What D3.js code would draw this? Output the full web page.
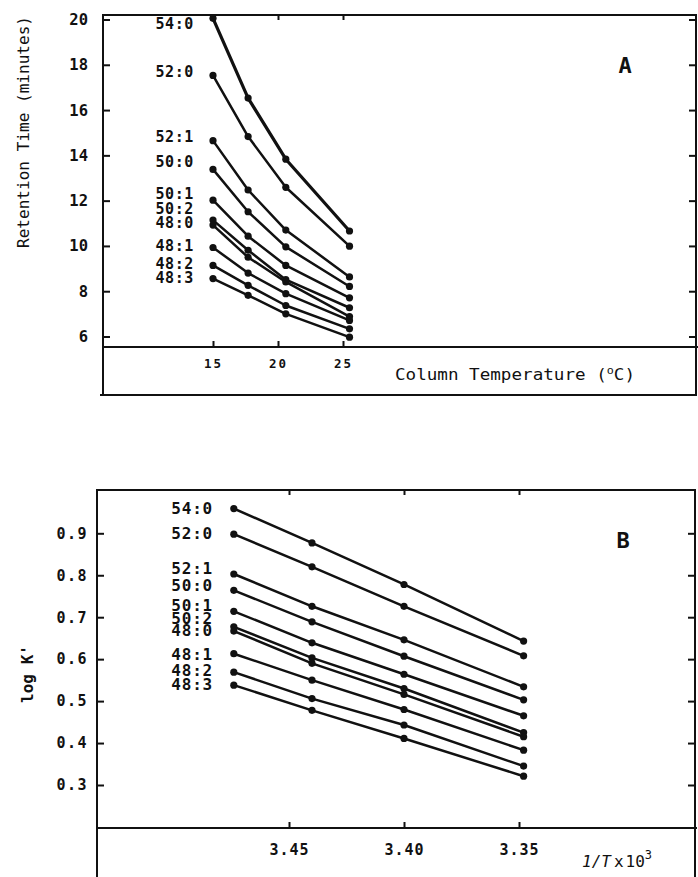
<!DOCTYPE html>
<html>
<head>
<meta charset="utf-8">
<script src="https://cdn.jsdelivr.net/npm/d3@7"></script>
<style>
  html, body { margin: 0; padding: 0; background: #fff; }
  svg { display: block; }
  text { font-family: "DejaVu Sans Mono", monospace; fill: #111; }
</style>
</head>
<body>
<svg id="chart" width="698" height="877"></svg>
<script>
// ---------- data ----------
const seriesNames = ["54:0", "52:0", "52:1", "50:0", "50:1", "50:2", "48:0", "48:1", "48:2", "48:3"];

// Panel A: column temperature (°C) vs retention time (minutes)
const temperatures = [15, 17.7, 20.6, 25.5];
const rt_54_0 = [20.05, 16.53, 13.83, 10.66];
const rt_52_0 = [17.53, 14.83, 12.59, 9.99];
const rt_52_1 = [14.65, 12.47, 10.70, 8.63];
const rt_50_0 = [13.38, 11.51, 9.96, 8.21];
const rt_50_1 = [12.02, 10.43, 9.14, 7.71];
const rt_50_2 = [11.14, 9.81, 8.51, 7.27];
const rt_48_0 = [10.92, 9.50, 8.41, 6.88];
const rt_48_1 = [9.93, 8.80, 7.89, 6.71];
const rt_48_2 = [9.14, 8.26, 7.37, 6.34];
const rt_48_3 = [8.56, 7.82, 7.00, 5.97];
const labelLevelA = [19.82, 17.70, 14.82, 13.71, 12.33, 11.63, 11.01, 10.03, 9.23, 8.61];
const tempTicks = [15, 20, 25];
const rtTicks = [6, 8, 10, 12, 14, 16, 18, 20];

// Panel B: 1/T x 10^3 vs log k'
const invT = [3.474, 3.440, 3.400, 3.348];
const lk_54_0 = [0.959, 0.877, 0.778, 0.643];
const lk_52_0 = [0.898, 0.820, 0.726, 0.608];
const lk_52_1 = [0.803, 0.726, 0.646, 0.534];
const lk_50_0 = [0.764, 0.689, 0.607, 0.503];
const lk_50_1 = [0.714, 0.639, 0.564, 0.465];
const lk_50_2 = [0.677, 0.603, 0.530, 0.425];
const lk_48_0 = [0.667, 0.590, 0.516, 0.415];
const lk_48_1 = [0.613, 0.550, 0.480, 0.383];
const lk_48_2 = [0.569, 0.506, 0.443, 0.345];
const lk_48_3 = [0.538, 0.478, 0.411, 0.321];
const labelLevelB = [0.960, 0.901, 0.816, 0.776, 0.729, 0.697, 0.670, 0.611, 0.573, 0.539];
const invTTicks = [3.45, 3.40, 3.35];
const lkTicks = [0.3, 0.4, 0.5, 0.6, 0.7, 0.8, 0.9];

const rtSeries = [rt_54_0, rt_52_0, rt_52_1, rt_50_0, rt_50_1, rt_50_2, rt_48_0, rt_48_1, rt_48_2, rt_48_3];
const lkSeries = [lk_54_0, lk_52_0, lk_52_1, lk_50_0, lk_50_1, lk_50_2, lk_48_0, lk_48_1, lk_48_2, lk_48_3];

// ---------- drawing ----------
const svg = d3.select("#chart");
const ink = "#111";

function frameLine(g, x1, y1, x2, y2, w) {
  g.append("line").attr("x1", x1).attr("y1", y1).attr("x2", x2).attr("y2", y2)
    .attr("stroke", ink).attr("stroke-width", w || 2).attr("stroke-linecap", "square");
}

function styleAxis(sel, fontSize) {
  sel.select(".domain").remove();
  sel.selectAll(".tick line").attr("stroke", ink).attr("stroke-width", 2);
  sel.selectAll(".tick text").attr("font-family", "DejaVu Sans Mono, monospace")
    .attr("font-size", fontSize).attr("fill", ink);
}

function drawPanel(cfg) {
  const g = svg.append("g");
  const x = cfg.x, y = cfg.y;

  // frame
  frameLine(g, cfg.left, cfg.top, cfg.right, cfg.top);
  frameLine(g, cfg.left, cfg.top, cfg.left, cfg.bottom);
  frameLine(g, cfg.right, cfg.top, cfg.right, cfg.bottom);
  frameLine(g, cfg.left, cfg.axisY, cfg.right + 1, cfg.axisY);
  if (cfg.boxBottom) frameLine(g, cfg.left - 2, cfg.boxBottom, cfg.right, cfg.boxBottom);

  // left axis
  const la = g.append("g").attr("transform", `translate(${cfg.left},0)`)
    .call(d3.axisLeft(y).tickValues(cfg.yTicks).tickSize(-7).tickPadding(cfg.yPad).tickFormat(cfg.yFmt));
  styleAxis(la, cfg.yFont);
  la.selectAll(".tick text").attr("letter-spacing", cfg.yLS).attr("font-weight", "bold");

  // right ticks
  const ra = g.append("g").attr("transform", `translate(${cfg.right},0)`)
    .call(d3.axisRight(y).tickValues(cfg.yTicks).tickSize(-7).tickFormat(""));
  styleAxis(ra, 10);

  // top ticks
  const ta = g.append("g").attr("transform", `translate(0,${cfg.top})`)
    .call(d3.axisTop(x).tickValues(cfg.xTicks).tickSize(-5).tickFormat(""));
  styleAxis(ta, 10);

  // bottom axis (ticks pointing up, labels below)
  const ba = g.append("g").attr("transform", `translate(0,${cfg.axisY})`)
    .call(d3.axisBottom(x).tickValues(cfg.xTicks).tickSize(-6).tickPadding(cfg.xPad).tickFormat(cfg.xFmt));
  styleAxis(ba, cfg.xFont);
  ba.selectAll(".tick text").attr("letter-spacing", cfg.xLS).attr("font-weight", "bold");

  // series
  const line = d3.line().x((d, i) => x(cfg.xs[i])).y(d => y(d));
  cfg.series.forEach((vals, si) => {
    g.append("path").datum(vals).attr("d", line)
      .attr("fill", "none").attr("stroke", ink).attr("stroke-width", si === 0 && cfg.thickFirst ? 3.2 : 2.5)
      .attr("stroke-linejoin", "round");
    g.selectAll(null).data(vals).enter().append("circle")
      .attr("cx", (d, i) => x(cfg.xs[i])).attr("cy", d => y(d)).attr("r", 3.6).attr("fill", ink);
  });

  // series labels
  g.selectAll(null).data(seriesNames).enter().append("text")
    .attr("x", cfg.labelX).attr("y", (d, i) => y(cfg.labelLevels[i]))
    .attr("dy", "0.36em").attr("text-anchor", "end")
    .attr("font-size", cfg.labelFont).attr("font-weight", "bold")
    .attr("letter-spacing", cfg.labelLS)
    .text(d => d);

  // panel letter
  g.append("text").attr("x", cfg.letterX).attr("y", cfg.letterY).attr("text-anchor", "middle")
    .attr("dy", "0.36em").attr("font-family", "Liberation Sans, Arial, sans-serif")
    .attr("font-weight", "bold").attr("font-size", 22).text(cfg.letter);
  return g;
}

// Panel A
const xA = d3.scaleLinear().domain([15, 25]).range([213, 343]);
const yA = d3.scaleLinear().domain([6, 20]).range([336.5, 19.5]);
const gA = drawPanel({
  x: xA, y: yA, left: 103, right: 696, top: 15, bottom: 395, axisY: 347, boxBottom: 395,
  xs: temperatures, series: rtSeries, labelLevels: labelLevelA, labelX: 194,
  yTicks: rtTicks, xTicks: tempTicks, yFmt: d3.format("d"), xFmt: d3.format("d"),
  yPad: 15, yFont: 15.5, yLS: 0, xPad: 12, xFont: 12.5, xLS: 2, labelFont: 15, labelLS: 0.6,
  letter: "A", letterX: 625, letterY: 65, thickFirst: true
});
gA.append("text").attr("x", 395).attr("y", 380).attr("font-size", 16.5).attr("font-family", "DejaVu Sans Mono, monospace")
  .attr("textLength", 240).attr("lengthAdjust", "spacingAndGlyphs")
  .text("Column Temperature (")
  .append("tspan").attr("dy", -6).attr("font-size", 11).text("o")
  .select(function () { return this.parentNode; })
  .append("tspan").attr("dy", 6).attr("font-size", 16.5).text("C)");
gA.append("text").attr("transform", "translate(29,132) rotate(-90)").attr("text-anchor", "middle")
  .attr("font-size", 16.5).attr("font-family", "DejaVu Sans Mono, monospace")
  .attr("textLength", 232).attr("lengthAdjust", "spacingAndGlyphs")
  .text("Retention Time (minutes)");

// Panel B
const xB = d3.scaleLinear().domain([3.45, 3.35]).range([289, 519]);
const yB = d3.scaleLinear().domain([0.3, 0.9]).range([785, 533.3]);
const gB = drawPanel({
  x: xB, y: yB, left: 97, right: 695, top: 490, bottom: 877, axisY: 828, boxBottom: null,
  xs: invT, series: lkSeries, labelLevels: labelLevelB, labelX: 213,
  yTicks: lkTicks, xTicks: invTTicks, yFmt: d3.format(".1f"), xFmt: d3.format(".2f"),
  yPad: 9, yFont: 15, yLS: 1.5, xPad: 16, xFont: 15, xLS: 1, labelFont: 16, labelLS: 0.8,
  letter: "B", letterX: 623, letterY: 540, thickFirst: false
});
gB.append("text").attr("transform", "translate(33,674) rotate(-90)").attr("text-anchor", "middle")
  .attr("font-size", 16).attr("font-weight", "bold").text("log K'");
const tt = gB.append("text").attr("x", 582).attr("y", 867).attr("font-size", 16)
  .attr("font-family", "DejaVu Sans Condensed, DejaVu Sans, sans-serif");
tt.append("tspan").attr("font-style", "italic").text("1/T");
tt.append("tspan").attr("dx", 3).text("x");
tt.append("tspan").attr("dx", 2).text("10");
tt.append("tspan").attr("dy", -8).attr("font-size", 12).text("3");
</script>
</body>
</html>
